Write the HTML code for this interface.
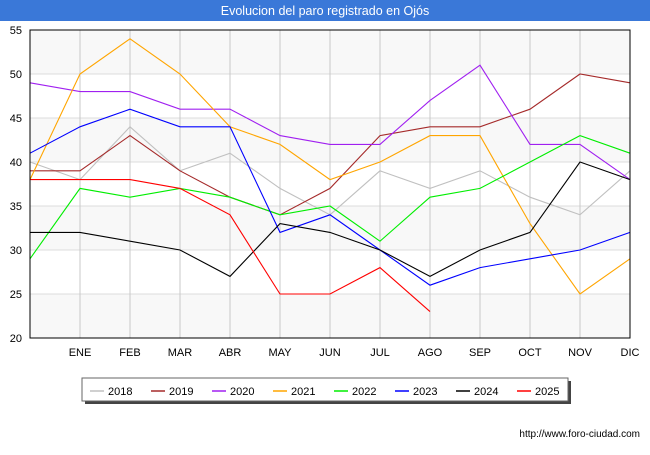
<!DOCTYPE html>
<html><head><meta charset="utf-8"><style>
body{margin:0;width:650px;height:450px;background:#fff;font-family:"Liberation Sans","DejaVu Sans",sans-serif;overflow:hidden}
</style></head><body>
<svg id="chart" width="650" height="450" xmlns="http://www.w3.org/2000/svg" font-family="Liberation Sans, DejaVu Sans, sans-serif">
<rect x="0" y="0" width="650" height="21" fill="#3a78d8"/>
<text x="325" y="15" text-anchor="middle" font-size="12.5" fill="#fff">Evolucion del paro registrado en Ojós</text>
<g id="bands"></g><g id="grid"></g><g id="yticks"></g><g id="xticks"></g><g id="series"></g>
<rect x="30" y="30" width="600" height="308" fill="none" stroke="#000" stroke-width="1"/>
<rect x="85" y="381" width="486" height="23" fill="#444"/>
<rect x="82" y="378" width="486" height="23" fill="#fff" stroke="#666"/>
<g id="legend"></g>
<text x="640" y="437" text-anchor="end" font-size="10" fill="#000">http://www.foro-ciudad.com</text>
</svg>
<script>
const categories=["","ENE","FEB","MAR","ABR","MAY","JUN","JUL","AGO","SEP","OCT","NOV","DIC"];
const yTicks=[20,25,30,35,40,45,50,55];
const seriesNames=["2018","2019","2020","2021","2022","2023","2024","2025"];
const seriesColors=["#c0c0c0","#a52a2a","#a020f0","#ffa500","#00ee00","#0000ff","#000000","#ff0000"];
const s2018=[40,38,44,39,41,37,34,39,37,39,36,34,39];
const s2019=[39,39,43,39,36,34,37,43,44,44,46,50,49];
const s2020=[49,48,48,46,46,43,42,42,47,51,42,42,38];
const s2021=[38,50,54,50,44,42,38,40,43,43,33,25,29];
const s2022=[29,37,36,37,36,34,35,31,36,37,40,43,41];
const s2023=[41,44,46,44,44,32,34,30,26,28,29,30,32];
const s2024=[32,32,31,30,27,33,32,30,27,30,32,40,38];
const s2025=[38,38,38,37,34,25,25,28,23];
const allSeries=[s2018,s2019,s2020,s2021,s2022,s2023,s2024,s2025];
const NS="http://www.w3.org/2000/svg";
const x0=30,x1=630,y0=338,y1=30,ymin=20,ymax=55;
const xs=i=>x0+i*(x1-x0)/(categories.length-1);
const ys=v=>y0-(v-ymin)*(y0-y1)/(ymax-ymin);
function mk(t,a,p){const e=document.createElementNS(NS,t);for(const k in a)e.setAttribute(k,a[k]);document.getElementById(p).appendChild(e);return e;}
for(let i=0;i<yTicks.length-1;i++){
 const e=mk("rect",{x:x0,y:ys(yTicks[i+1]),width:x1-x0,height:ys(yTicks[i])-ys(yTicks[i+1]),fill:(i%2===0)?"#f8f8f8":"#ffffff"},"bands");
 
 
}
yTicks.forEach(v=>{
 const l=mk("line",{x1:x0,x2:x1,y1:ys(v),y2:ys(v),stroke:"#dddddd"},"grid");
 
 
 const t=mk("text",{x:22,y:ys(v)+4,"text-anchor":"end","font-size":"11",fill:"#000"},"yticks");
 
 
 t.textContent=v;
});
categories.forEach((c,i)=>{
 const l=mk("line",{x1:xs(i),x2:xs(i),y1:y1,y2:y0,stroke:"#c8c8c8"},"grid");
 
 
 if(c){const t=mk("text",{x:xs(i),y:356,"text-anchor":"middle","font-size":"11",fill:"#000"},"xticks");
 
 
 t.textContent=c;}
});
allSeries.forEach((s,k)=>{
 const p=mk("polyline",{points:s.map((v,i)=>xs(i)+","+ys(v)).join(" "),fill:"none",stroke:seriesColors[k],"stroke-width":"1.1"},"series");
 
 
});
seriesNames.forEach((n,k)=>{
 const lx=90+k*61;
 const l=mk("line",{x1:lx,x2:lx+14,y1:391,y2:391,stroke:seriesColors[k],"stroke-width":"1.5"},"legend");
 
 
 const t=mk("text",{x:lx+18,y:395,"font-size":"11",fill:"#000"},"legend");
 
 
 t.textContent=n;
});
</script>
</body></html>
